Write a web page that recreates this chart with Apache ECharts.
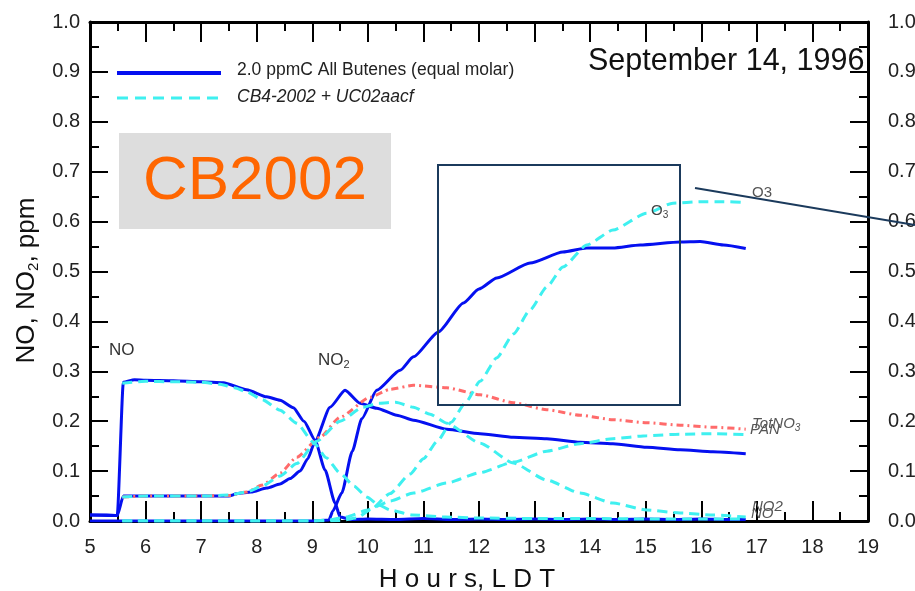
<!DOCTYPE html>
<html><head><meta charset="utf-8">
<script src="https://cdn.jsdelivr.net/npm/echarts@6/dist/echarts.min.js"></script>
<style>html,body{margin:0;padding:0;background:#fff}#c{width:915px;height:591px}</style>
</head><body><div id="c"></div>
<script>
// ---- data (hours LDT, ppm) ----
const xRange = [5, 19];
const yRange = [0, 1];
const seriesExpName = '2.0 ppmC All Butenes (equal molar)';
const seriesModName = 'CB4-2002 + UC02aacf';

const expNO = [[5.0,0.012],[5.3,0.012],[5.49,0.011],[5.6,0.278],[5.8,0.283],[6.0,0.282],[6.5,0.281],[7.0,0.279],[7.4,0.277],[7.82,0.263],[8.18,0.249],[8.42,0.242],[8.66,0.227],[8.85,0.2],[9.05,0.162],[9.23,0.102],[9.41,0.036],[9.5,0.008],[9.7,0.003],[10.0,0.004],[10.5,0.003],[11.0,0.005],[11.5,0.003],[12.0,0.004],[12.5,0.003],[13.0,0.004],[13.5,0.003],[14.0,0.004],[14.5,0.003],[15.0,0.004],[15.5,0.003],[16.0,0.004],[16.5,0.003],[16.8,0.003]];
const expNO2 = [[5.0,0.012],[5.49,0.011],[5.6,0.05],[6.0,0.05],[6.5,0.05],[7.0,0.05],[7.5,0.05],[7.65,0.055],[7.9,0.058],[8.18,0.066],[8.42,0.074],[8.6,0.085],[8.78,0.1],[8.92,0.125],[9.05,0.16],[9.32,0.228],[9.59,0.262],[9.86,0.236],[10.16,0.226],[10.52,0.212],[10.82,0.202],[11.42,0.184],[12.02,0.175],[12.62,0.168],[13.22,0.165],[13.82,0.158],[14.41,0.155],[15.02,0.148],[15.62,0.143],[16.21,0.139],[16.8,0.135]];
const expO3 = [[5.0,0.0],[6.0,0.0],[7.0,0.0],[8.0,0.0],[9.0,0.0],[9.3,0.002],[9.37,0.02],[9.53,0.056],[9.72,0.14],[9.89,0.205],[10.16,0.262],[10.58,0.302],[10.82,0.329],[11.27,0.379],[11.72,0.437],[12.0,0.465],[12.32,0.487],[12.92,0.517],[13.51,0.539],[13.94,0.547],[14.41,0.547],[14.9,0.553],[15.62,0.559],[15.98,0.56],[16.4,0.553],[16.8,0.546]];

const modNO = [[5.58,0.276],[6.0,0.28],[6.5,0.279],[7.0,0.278],[7.34,0.274],[7.6,0.267],[7.82,0.259],[8.1,0.243],[8.42,0.222],[8.72,0.196],[9.02,0.158],[9.25,0.127],[9.5,0.096],[9.75,0.07],[9.98,0.048],[10.2,0.032],[10.4,0.022],[10.8,0.012],[11.4,0.008],[12.0,0.006],[13.0,0.005],[14.0,0.005],[15.0,0.004],[16.0,0.004],[16.8,0.004]];
const modNO2 = [[5.58,0.048],[6.0,0.05],[7.0,0.05],[7.5,0.052],[7.82,0.058],[8.1,0.07],[8.42,0.09],[8.72,0.115],[9.08,0.16],[9.5,0.2],[9.91,0.228],[10.2,0.236],[10.5,0.238],[10.82,0.228],[11.12,0.214],[11.42,0.196],[12.02,0.156],[12.62,0.116],[13.22,0.082],[13.82,0.056],[14.41,0.036],[15.02,0.022],[15.62,0.016],[16.21,0.012],[16.8,0.008]];
const modO3 = [[5.58,0.0],[7.0,0.0],[8.0,0.0],[9.0,0.0],[9.5,0.001],[9.8,0.006],[10.04,0.022],[10.4,0.055],[10.76,0.094],[11.0,0.125],[11.25,0.16],[11.5,0.198],[11.75,0.236],[12.02,0.28],[12.32,0.327],[12.62,0.375],[12.92,0.423],[13.22,0.469],[13.51,0.509],[13.94,0.553],[14.41,0.583],[15.02,0.617],[15.49,0.637],[15.98,0.64],[16.4,0.64],[16.8,0.638]];
const modPAN = [[5.58,0.0],[7.0,0.0],[8.0,0.0],[9.0,0.0],[9.3,0.002],[9.6,0.008],[10.0,0.022],[10.4,0.04],[10.82,0.056],[11.42,0.076],[12.02,0.097],[12.62,0.118],[13.22,0.14],[13.82,0.155],[14.41,0.165],[15.02,0.171],[15.62,0.174],[16.21,0.175],[16.8,0.173]];
const modTotNO3 = [[5.58,0.048],[6.0,0.05],[7.0,0.05],[7.5,0.051],[7.82,0.058],[8.1,0.072],[8.42,0.096],[8.72,0.128],[9.14,0.168],[9.5,0.208],[10.04,0.248],[10.4,0.264],[10.82,0.272],[11.42,0.267],[12.02,0.253],[12.62,0.237],[13.22,0.223],[13.82,0.212],[14.41,0.203],[15.02,0.197],[15.62,0.192],[16.21,0.188],[16.8,0.184]];

// ---- styles ----
const FONT = '"Liberation Sans", Arial, Helvetica, sans-serif';
const BLUE = '#0510f0', CYAN = '#3ff0f0', RED = '#ff6b6b', NAVY = '#1b3a5c';

function mkAxis(kind, pos, showLabel, extra) {
  const isX = kind === 'x';
  return Object.assign({
    type: 'value', position: pos,
    min: isX ? xRange[0] : yRange[0], max: isX ? xRange[1] : yRange[1],
    interval: isX ? 1 : 0.1,
    axisLine: { show: true, onZero: false, lineStyle: { color: '#000', width: 3 } },
    axisTick: { show: true, inside: true, length: isX ? 20 : 18, lineStyle: { color: '#000', width: 2 } },
    minorTick: { show: true, splitNumber: 2, length: 9, lineStyle: { color: '#000', width: 2 } },
    axisLabel: { show: showLabel, color: '#222', fontSize: 20, fontFamily: FONT,
      margin: isX ? 16 : (pos === 'right' ? 20 : 10),
      formatter: isX ? (v => String(v)) : (v => v.toFixed(1)) },
    splitLine: { show: false }, minorSplitLine: { show: false }
  }, extra || {});
}

function line(name, data, color, type, width, z) {
  return { type: 'line', name: name, data: data, xAxisIndex: 0, yAxisIndex: 0,
    symbol: 'none', showSymbol: false, smooth: 0.2, smoothMonotone: 'x', z: z,
    lineStyle: { color: color, width: width, type: type }, animation: false };
}

const chart = echarts.init(document.getElementById('c'), null, { renderer: 'canvas' });
const option = {
  backgroundColor: '#fff',
  animation: false,
  grid: { left: 90, right: 47, top: 22, bottom: 70, containLabel: false, outerBoundsMode: 'none' },
  xAxis: [
    mkAxis('x', 'bottom', true, { name: 'H o u r s, L D T', nameLocation: 'middle', nameGap: 46,
      nameTextStyle: { color: '#111', fontSize: 26, fontFamily: FONT, padding: [0, 24, 0, 0] } }),
    mkAxis('x', 'top', false)
  ],
  yAxis: [
    mkAxis('y', 'left', true, { name: '{a|NO, NO}{s|2}{a|, ppm}', nameLocation: 'middle', nameGap: 43,
      nameTextStyle: { padding: [0, 18, 0, 0], rich: {
        a: { fontSize: 26, color: '#111', fontFamily: FONT },
        s: { fontSize: 15, color: '#111', fontFamily: FONT, verticalAlign: 'bottom', padding: [13, 0, 0, 0] } } } }),
    mkAxis('y', 'right', true)
  ],
  series: [
    line(seriesExpName, expNO, BLUE, 'solid', 3, 3),
    line(seriesExpName, expNO2, BLUE, 'solid', 3, 3),
    line(seriesExpName, expO3, BLUE, 'solid', 3, 3),
    line('TotNO3', modTotNO3, RED, [7, 4, 2, 4], 3, 4),
    line(seriesModName, modNO, CYAN, [10, 6], 3, 5),
    line(seriesModName, modNO2, CYAN, [10, 6], 3, 5),
    line(seriesModName, modO3, CYAN, [10, 6], 3, 5),
    line(seriesModName, modPAN, CYAN, [10, 6], 3, 5)
  ],
  graphic: [
    // legend
    { type: 'line', shape: { x1: 117, y1: 73, x2: 221, y2: 73 }, style: { stroke: BLUE, lineWidth: 4 }, z: 20 },
    { type: 'line', shape: { x1: 117, y1: 98, x2: 221, y2: 98 }, style: { stroke: CYAN, lineWidth: 3, lineDash: [11, 7] }, z: 20 },
    { type: 'text', x: 237, y: 70, style: { text: seriesExpName, font: '17.5px ' + FONT, fill: '#222', verticalAlign: 'middle' }, z: 20 },
    { type: 'text', x: 237, y: 97, style: { text: seriesModName, font: 'italic 17.5px ' + FONT, fill: '#222', verticalAlign: 'middle' }, z: 20 },
    // date
    { type: 'text', x: 588, y: 62, style: { text: 'September 14, 1996', font: '30.5px ' + FONT, fill: '#111', verticalAlign: 'middle' }, z: 20 },
    // CB2002 box
    { type: 'rect', shape: { x: 119, y: 133, width: 272, height: 96 }, style: { fill: '#dddddd' }, z: 1 },
    { type: 'text', x: 255, y: 182, style: { text: 'CB2002', font: '62px ' + FONT, fill: '#ff6600', align: 'center', verticalAlign: 'middle' }, z: 2 },
    // highlight rectangle and pointer line
    { type: 'rect', shape: { x: 438, y: 165, width: 242, height: 240 }, style: { fill: 'none', stroke: NAVY, lineWidth: 2 }, z: 20 },
    { type: 'line', shape: { x1: 695, y1: 188, x2: 915, y2: 225 }, style: { stroke: NAVY, lineWidth: 2 }, z: 20 },
    // curve labels
    { type: 'text', x: 109, y: 350, style: { text: 'NO', font: '17px ' + FONT, fill: '#333', verticalAlign: 'middle' }, z: 20 },
    { type: 'text', x: 318, y: 360, style: { text: '{a|NO}{s|2}', rich: { a: { font: '17px ' + FONT, fill: '#333' }, s: { font: '11px ' + FONT, fill: '#333', padding: [10, 0, 0, 0] } }, verticalAlign: 'middle' }, z: 20 },
    { type: 'text', x: 651, y: 211, style: { text: '{a|O}{s|3}', rich: { a: { font: '15px ' + FONT, fill: '#444' }, s: { font: '10px ' + FONT, fill: '#444', padding: [9, 0, 0, 0] } }, verticalAlign: 'middle' }, z: 20 },
    { type: 'text', x: 752, y: 193, style: { text: 'O3', font: '15px ' + FONT, fill: '#555', verticalAlign: 'middle' }, z: 20 },
    { type: 'text', x: 752, y: 424, style: { text: '{a|TotNO}{s|3}', rich: { a: { font: 'italic 15px ' + FONT, fill: '#555' }, s: { font: 'italic 10px ' + FONT, fill: '#555', padding: [9, 0, 0, 0] } }, verticalAlign: 'middle' }, z: 20 },
    { type: 'text', x: 750, y: 430, style: { text: 'PAN', font: 'italic 15px ' + FONT, fill: '#555', verticalAlign: 'middle' }, z: 20 },
    { type: 'text', x: 752, y: 507, style: { text: 'NO2', font: 'italic 15px ' + FONT, fill: '#555', verticalAlign: 'middle' }, z: 20 },
    { type: 'text', x: 751, y: 514, style: { text: 'NO', font: 'italic 15px ' + FONT, fill: '#555', verticalAlign: 'middle' }, z: 20 }
  ]
};
chart.setOption(option);
</script>
</body></html>
